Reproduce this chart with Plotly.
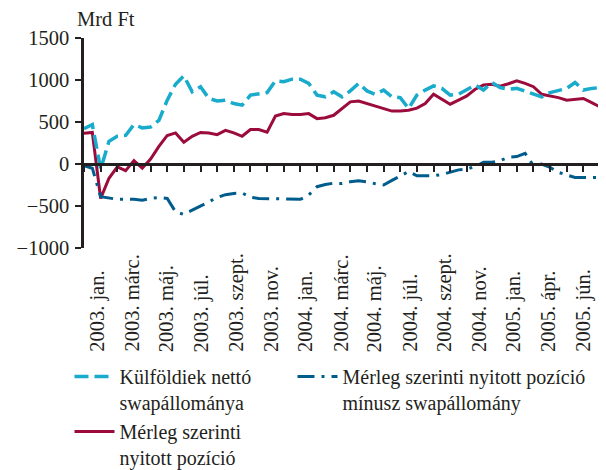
import plotly.graph_objects as go

# ---- data ----
tick_labels = ["2003. jan.", "2003. márc.", "2003. máj.", "2003. júl.", "2003. szept.",
               "2003. nov.", "2004. jan.", "2004. márc.", "2004. máj.", "2004. júl.",
               "2004. szept.", "2004. nov.", "2005. jan.", "2005. ápr.", "2005. jún."]

kulfoldiek_swap = [420, 470, -60, 270, 330, 340, 470, 430, 440, 520,
                   760, 950, 1050, 860, 920, 780, 750, 760, 720, 700,
                   820, 840, 850, 990, 980, 1010, 1010, 960, 820, 800,
                   860, 800, 870, 960, 870, 830, 880, 800, 790, 660,
                   820, 880, 930, 900, 820, 830, 880, 940, 880, 970,
                   910, 890, 900, 870, 840, 800, 850, 880, 900, 970,
                   880, 900, 910]

merleg_nyitott = [365, 375, -410, -170, -35, -80, 40, -50, 60, 210,
                  340, 370, 260, 330, 375, 370, 350, 400, 370, 330,
                  410, 410, 380, 570, 600, 590, 590, 600, 540, 550,
                  580, 660, 740, 750, 720, 690, 660, 630, 630, 640,
                  665, 720, 830, 775, 712, 760, 810, 890, 940, 950,
                  925, 955, 990, 960, 920, 830, 810, 790, 760, 770,
                  780, 730, 680]

merleg_minus_swap = [-20, -50, -390, -405, -420, -420, -420, -430, -410, -400,
                     -410, -570, -600, -550, -500, -450, -400, -365, -350, -345,
                     -395, -410, -412, -412, -415, -420, -420, -370, -270, -245,
                     -228, -232, -210, -200, -212, -235, -250, -195, -145, -90,
                     -140, -140, -140, -125, -100, -70, -60, -30, 20, 20,
                     40, 80, 88, 128, -20, 0, -40, -100, -130, -160,
                     -160, -160, -160]

obs = list(range(len(merleg_nyitott)))

FONT = "Liberation Serif"
CYAN = "#18ABCC"
NAVY = "#005C8C"
RED = "#9B0B3B"
INK = "#231f20"

W, H = 598, 462  # page adds an 8px body margin

fig = go.Figure()
fig.add_trace(go.Scatter(x=obs, y=merleg_nyitott, mode="lines",
                         name="Mérleg szerinti<br>nyitott pozíció", legend="legend",
                         line=dict(color=RED, width=3), legendrank=3))
fig.add_trace(go.Scatter(x=obs, y=kulfoldiek_swap, mode="lines",
                         name="Külföldiek nettó<br>swapállománya", legend="legend",
                         line=dict(color=CYAN, width=3.5, dash="14px,6px"), legendrank=1))
fig.add_trace(go.Scatter(x=obs, y=merleg_minus_swap, mode="lines",
                         name="Mérleg szerinti nyitott pozíció<br>mínusz swapállomány",
                         legend="legend2",
                         line=dict(color=NAVY, width=3, dash="17px,7px,3px,7px"), legendrank=2))
# invisible helper trace for the zero-line axis
fig.add_trace(go.Scatter(x=[obs[0]], y=[0], xaxis="x2", mode="lines",
                         showlegend=False, hoverinfo="skip", line=dict(width=0)))

xr = [obs[0], obs[-1]]
leg_common = dict(orientation="v", xanchor="left", yanchor="top", xref="container",
                  yref="container", valign="top", itemwidth=40,
                  font=dict(family=FONT, size=20, color=INK), bgcolor="rgba(0,0,0,0)",
                  traceorder="normal", tracegroupgap=0)
fig.update_layout(
    width=W, height=H,
    margin=dict(l=76, r=6, t=30, b=222, autoexpand=False),
    paper_bgcolor="white", plot_bgcolor="white",
    font=dict(family=FONT, size=20, color=INK),
    showlegend=True,
    xaxis=dict(range=xr, showline=False, ticks="", showticklabels=False,
               showgrid=False, zeroline=False),
    xaxis2=dict(range=xr, overlaying="x", matches="x", anchor="free", position=0.4,
                side="bottom", showline=True, linecolor=INK, linewidth=2.5,
                ticks="outside", ticklen=6, tickwidth=2, tickcolor=INK,
                tick0=0, dtick=2, showticklabels=False, showgrid=False, zeroline=False),
    yaxis=dict(range=[-1000, 1500], tickvals=[-1000, -500, 0, 500, 1000, 1500],
               ticktext=["\u22121000", "\u2212500", "0", "500", "1000", "1500"],
               showline=True, linecolor=INK, linewidth=2.5,
               ticks="outside", ticklen=6, tickwidth=2, tickcolor=INK,
               showgrid=False, zeroline=False, ticklabelstandoff=2,
               tickfont=dict(family=FONT, size=20.5)),
    legend=dict(leg_common, x=61.5 / W, y=1 - 349 / H),
    legend2=dict(leg_common, x=284.5 / W, y=1 - 349 / H),
)

annotations = [dict(text="Mrd Ft", xref="paper", yref="paper", x=-0.018, y=1,
                    xanchor="left", yanchor="bottom", yshift=6, showarrow=False,
                    font=dict(family=FONT, size=20.5))]
for k, lab in enumerate(tick_labels):
    annotations.append(dict(text=lab, xref="x", yref="paper",
                            x=1.6 + 4.17 * k, y=-0.505,
                            xanchor="center", yanchor="bottom", textangle=-90,
                            showarrow=False, font=dict(family=FONT, size=20.5)))
fig.update_layout(annotations=annotations)

fig.write_html("out.html")
